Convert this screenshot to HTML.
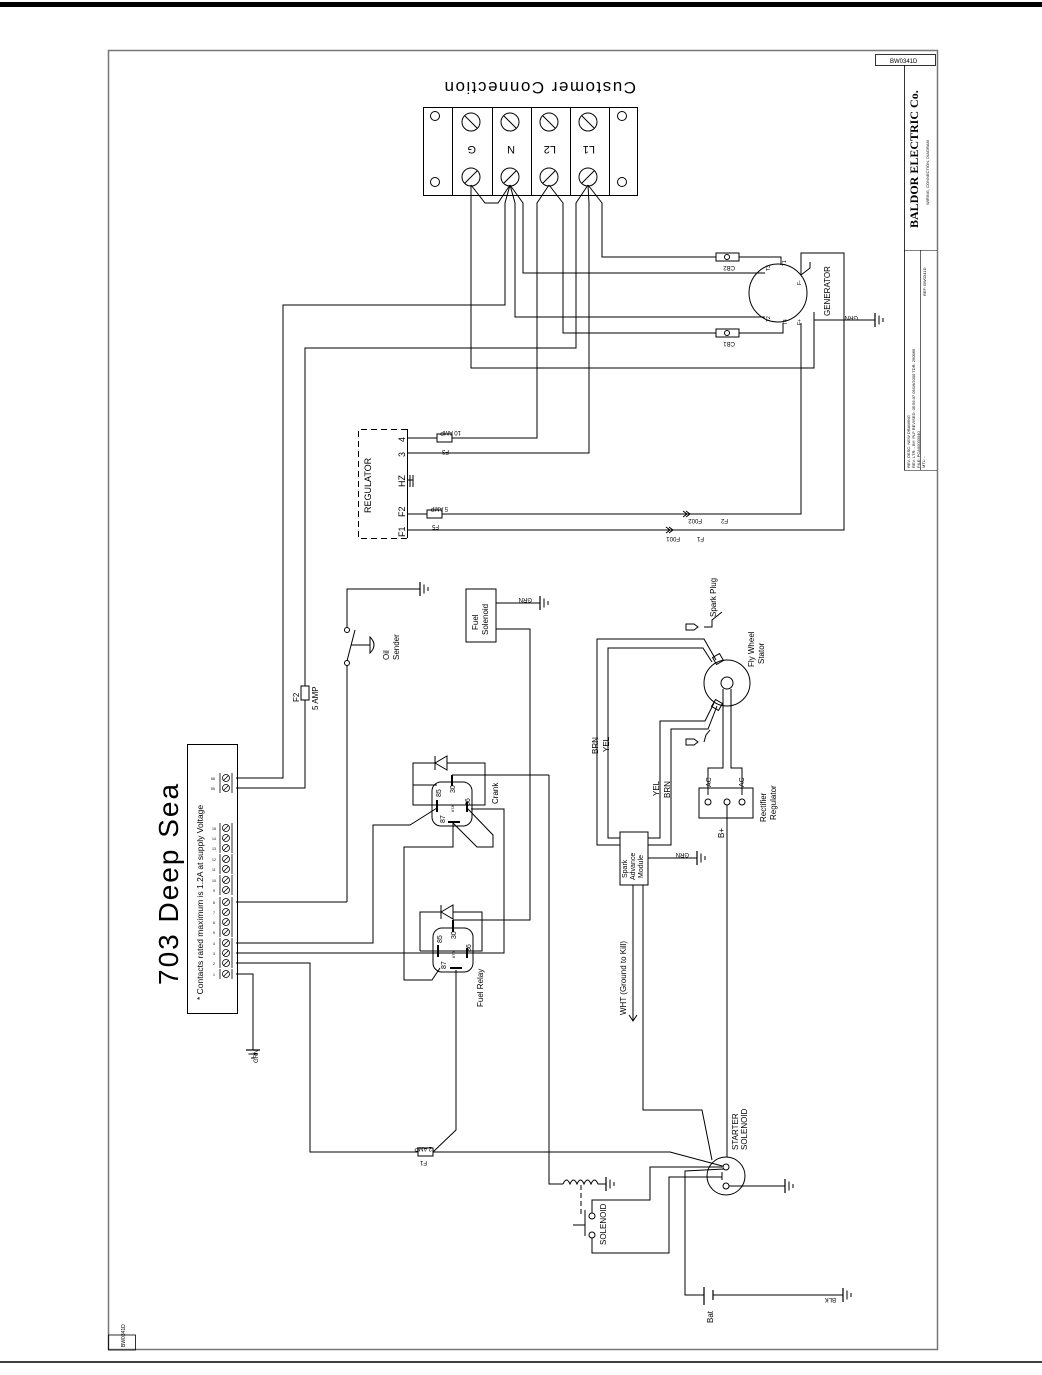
<!DOCTYPE html>
<html><head><meta charset="utf-8"><style>
html,body{margin:0;padding:0;background:#fff;}
svg{display:block;}
text{font-family:"Liberation Sans",sans-serif;fill:#000;}
</style></head><body>
<svg width="1042" height="1375" viewBox="0 0 1042 1375" xmlns="http://www.w3.org/2000/svg">
<defs>
<g id="gnd"><line x1="0" y1="-7" x2="0" y2="7" stroke="#000" stroke-width="1.2"/><line x1="4" y1="-4.5" x2="4" y2="4.5" stroke="#000"/><line x1="8" y1="-2" x2="8" y2="2" stroke="#000"/></g>
<g id="t" stroke="#000" fill="none" stroke-width="0.8">
<circle cx="226" cy="0" r="3.5"/><line x1="223.5" y1="2.5" x2="228.5" y2="-2.5"/><line x1="220" y1="-5" x2="220" y2="5"/><line x1="232" y1="-5" x2="232" y2="5"/>
</g>
</defs>
<rect x="0" y="2" width="1042" height="5" fill="#000"/>
<line x1="0" y1="1362" x2="1042" y2="1362" stroke="#000" stroke-width="1.5"/>
<!-- frame -->
<rect x="108.5" y="50.5" width="829" height="1299" fill="none" stroke="#777" stroke-width="1.5"/>
<rect x="108.5" y="1335" width="27" height="15" fill="none" stroke="#000" stroke-width="0.8"/>
<text transform="translate(125,1347) rotate(-90)" font-size="5">BW0341D</text>
<!-- title block -->
<rect x="875.5" y="54.5" width="60" height="11" fill="none" stroke="#000" stroke-width="0.8"/>
<text x="890" y="63" font-size="6">BW0341D</text>
<line x1="904.5" y1="65" x2="904.5" y2="470" stroke="#000" stroke-width="0.8"/>
<line x1="920.5" y1="250" x2="920.5" y2="470" stroke="#000" stroke-width="0.6"/>
<line x1="904" y1="250.5" x2="937" y2="250.5" stroke="#000" stroke-width="0.6"/>
<line x1="904" y1="470.5" x2="937" y2="470.5" stroke="#000" stroke-width="0.6"/>
<text transform="translate(918,228) rotate(-90)" font-size="12" font-weight="bold" style="font-family:'Liberation Serif',serif">BALDOR  ELECTRIC  Co.</text>
<text transform="translate(929,205) rotate(-90)" font-size="4">WIRING, CONNECTION, DIAGRAM</text>
<text transform="translate(910,468) rotate(-90)" font-size="4">REV. DESC: NEW DRAWING</text>
<text transform="translate(915,468) rotate(-90)" font-size="4">REV. LTR: -  BY: PLF  REVISED: 05:56:37 05/19/2000  TDR: 290989</text>
<text transform="translate(920,468) rotate(-90)" font-size="4">FILE: PCA00003040</text>
<text transform="translate(925,468) rotate(-90)" font-size="4">MTL: -</text>
<text transform="translate(926,296) rotate(-90)" font-size="4">REF: BW0341D</text>

<!-- Customer connection -->
<text transform="translate(636,82) rotate(180)" font-size="17" letter-spacing="1.5">Customer Connection</text>
<rect x="423.5" y="107.5" width="214" height="88" fill="none" stroke="#000"/>
<g stroke="#000" fill="none">
<line x1="452.5" y1="107" x2="452.5" y2="196"/><line x1="492.5" y1="107" x2="492.5" y2="196"/>
<line x1="531.5" y1="107" x2="531.5" y2="196"/><line x1="570.5" y1="107" x2="570.5" y2="196"/>
<line x1="609.5" y1="107" x2="609.5" y2="196"/>
<circle cx="435" cy="116" r="4.5"/><circle cx="435" cy="182" r="4.5"/>
<circle cx="622" cy="116" r="4.5"/><circle cx="622" cy="182" r="4.5"/>
<circle cx="471" cy="122" r="9"/><circle cx="510" cy="122" r="9"/><circle cx="549" cy="122" r="9"/><circle cx="588" cy="122" r="9"/>
<circle cx="471" cy="177" r="9"/><circle cx="510" cy="177" r="9"/><circle cx="549" cy="177" r="9"/><circle cx="588" cy="177" r="9"/>
<line x1="465" y1="116" x2="477" y2="128"/><line x1="504" y1="116" x2="516" y2="128"/><line x1="543" y1="116" x2="555" y2="128"/><line x1="582" y1="116" x2="594" y2="128"/>
<line x1="465" y1="183" x2="477" y2="171"/><line x1="504" y1="183" x2="516" y2="171"/><line x1="543" y1="183" x2="555" y2="171"/><line x1="582" y1="183" x2="594" y2="171"/>
</g>
<g font-size="11">
<text transform="translate(476,146) rotate(180)">G</text><text transform="translate(515,146) rotate(180)">N</text>
<text transform="translate(556,146) rotate(180)">L2</text><text transform="translate(595,146) rotate(180)">L1</text>
</g>

<!-- wires top -->
<g stroke="#000" fill="none" stroke-width="1">
<polyline points="471,185 485,203 498,203 510,185"/>
<polyline points="471,185 471,368 814,368 814,312"/>
<polyline points="510,185 505,203 505,305 283,305 283,778 236,778"/>
<polyline points="510,185 515,203 515,317 765,317"/>
<polyline points="510,185 523,203 523,273 765,273"/>
<polyline points="549,185 537,203 537,438 452,438"/>
<polyline points="549,185 563,203 563,333 716,333"/>
<polyline points="739,333 783,333 783,323"/>
<polyline points="588,185 576,203 576,348 305,348 305,686"/>
<polyline points="305,700 305,788 236,788"/>
<polyline points="588,185 602,203 602,257 716,257"/>
<polyline points="739,257 781,257 781,265"/>
<polyline points="588,185 589,203 589,453 407,453"/>
<polyline points="442,514 801,514 801,323"/>
<polyline points="407,530 844,530 844,253 801,253 801,275"/>
<line x1="814" y1="320" x2="875" y2="320"/>
<line x1="407" y1="438" x2="437" y2="438"/>
<line x1="407" y1="514" x2="427" y2="514"/>
</g>
<use href="#gnd" x="875" y="320"/>
<text transform="translate(858,316) rotate(180)" font-size="6">GRN</text>
<!-- generator -->
<circle cx="778" cy="293" r="29" fill="none" stroke="#000"/>
<text transform="translate(830,316) rotate(-90)" font-size="8">GENERATOR</text>
<g font-size="5"><text transform="translate(770,271) rotate(-90)">T3</text><text transform="translate(786,266) rotate(-90)">T1</text><text transform="translate(770,322) rotate(-90)">T2</text><text transform="translate(787,325) rotate(-90)">T4</text><text transform="translate(801,285) rotate(-90)">F-</text><text transform="translate(801,325) rotate(-90)">F+</text></g>
<polyline points="801,275 810,268 810,262" fill="none" stroke="#000"/>
<!-- CB fuses -->
<g stroke="#000" fill="#fff"><rect x="716" y="253" width="23" height="8"/><rect x="716" y="329" width="23" height="8"/></g>
<g stroke="#000"><circle cx="727" cy="257" r="2.5" fill="none"/><circle cx="727" cy="333" r="2.5" fill="none"/></g>
<text transform="translate(735,266) rotate(180)" font-size="6">CB2</text>
<text transform="translate(735,342) rotate(180)" font-size="6">CB1</text>

<!-- Regulator -->
<path d="M407.5 429 V538.5 H358.5 V429.5 H407" fill="none" stroke="#000" stroke-dasharray="6,4"/>
<line x1="407.5" y1="429" x2="407.5" y2="538" stroke="#000"/>
<text transform="translate(371,513) rotate(-90)" font-size="9">REGULATOR</text>
<g font-size="9"><text transform="translate(405,442) rotate(-90)">4</text><text transform="translate(405,457) rotate(-90)">3</text><text transform="translate(405,487) rotate(-90)">HZ</text><text transform="translate(405,517) rotate(-90)">F2</text><text transform="translate(405,537) rotate(-90)">F1</text></g>
<g stroke="#000"><line x1="410" y1="475" x2="410" y2="487"/><line x1="413" y1="475" x2="413" y2="487"/><line x1="407" y1="480" x2="413" y2="480"/></g>
<rect x="437" y="434" width="15" height="8" fill="#fff" stroke="#000"/>
<rect x="427" y="510" width="15" height="8" fill="#fff" stroke="#000"/>
<g font-size="6"><text transform="translate(461,431) rotate(180)">10 AMP</text><text transform="translate(449,450) rotate(180)">F3</text><text transform="translate(448,507) rotate(180)">5 AMP</text><text transform="translate(439,525) rotate(180)">F5</text>
<text transform="translate(702,519) rotate(180)">F002</text><text transform="translate(728,519) rotate(180)">F2</text>
<text transform="translate(680,537) rotate(180)">F001</text><text transform="translate(704,537) rotate(180)">F1</text></g>
<g stroke="#000" fill="none"><polyline points="683,511 687,514 683,517"/><polyline points="686,511 690,514 686,517"/><polyline points="666,527 670,530 666,533"/><polyline points="669,527 673,530 669,533"/></g>

<!-- F2 5 AMP fuse on 305 line -->
<rect x="301" y="686" width="8" height="14" fill="#fff" stroke="#000"/>
<text transform="translate(299,702) rotate(-90)" font-size="8">F2</text>
<text transform="translate(318,710) rotate(-90)" font-size="8">5 AMP</text>

<!-- oil sender -->
<g stroke="#000" fill="none">
<polyline points="347,902 347,664"/>
<circle cx="347" cy="663" r="2.5" fill="#fff"/><circle cx="347" cy="630" r="2.5" fill="#fff"/>
<line x1="347" y1="661" x2="355" y2="630"/>
<line x1="351" y1="645" x2="370" y2="645"/>
<path d="M370 637 Q378 645 370 653 Z"/>
<polyline points="347,627 347,589 420,589"/>
</g>
<use href="#gnd" x="420" y="589"/>
<text transform="translate(389,660) rotate(-90)" font-size="8">Oil</text>
<text transform="translate(399,660) rotate(-90)" font-size="8">Sender</text>

<!-- Fuel solenoid -->
<rect x="466" y="589" width="30" height="53" fill="none" stroke="#000"/>
<text transform="translate(478,630) rotate(-90)" font-size="8">Fuel</text>
<text transform="translate(488,635) rotate(-90)" font-size="8">Solenoid</text>
<line x1="496" y1="603" x2="540" y2="603" stroke="#000"/>
<use href="#gnd" x="540" y="603"/>
<text transform="translate(532,598) rotate(180)" font-size="6">GRN</text>
<polyline points="496,629 530,629 530,920 453,920" fill="none" stroke="#000"/>

<!-- Deep Sea -->
<rect x="187.5" y="744.5" width="50" height="269" fill="none" stroke="#000"/>
<text transform="translate(178,985) rotate(-90)" font-size="28" font-weight="200" letter-spacing="2">703 Deep Sea</text>
<text transform="translate(203,1000) rotate(-90)" font-size="8.5">* Contacts rated maximum is 1.2A at supply Voltage</text>
<g>
<use href="#t" y="778"/><use href="#t" y="788"/>
<use href="#t" y="828"/><use href="#t" y="838"/><use href="#t" y="848"/><use href="#t" y="859"/><use href="#t" y="869"/><use href="#t" y="880"/><use href="#t" y="890"/><use href="#t" y="902"/><use href="#t" y="912"/><use href="#t" y="922"/><use href="#t" y="932"/><use href="#t" y="943"/><use href="#t" y="953"/><use href="#t" y="963"/><use href="#t" y="974"/>
</g>
<g font-size="3.5"><text x="211" y="780">56</text><text x="211" y="790">55</text><text x="212" y="830">15</text><text x="212" y="840">14</text><text x="212" y="850">13</text><text x="212" y="861">12</text><text x="212" y="871">11</text><text x="212" y="882">10</text><text x="213" y="892">9</text><text x="213" y="904">8</text><text x="213" y="914">7</text><text x="213" y="924">6</text><text x="213" y="934">5</text><text x="213" y="945">4</text><text x="213" y="955">3</text><text x="213" y="965">2</text><text x="213" y="976">1</text></g>

<!-- Deep sea wires -->
<g stroke="#000" fill="none">
<polyline points="236,902 347,902"/>
<polyline points="236,943 373,943 373,825 410,825 437,808"/>
<polyline points="236,953 504,953 504,809 471,809"/>
<polyline points="236,963 310,963 310,1152 418,1152"/>
<polyline points="433,1152 670,1152 726,1167"/>
<polyline points="236,974 253,974 253,1050"/>
<polyline points="433,1152 456,1130 456,970"/>
</g>
<use href="#gnd" x="253" y="1050" transform="rotate(90 253 1050)"/>
<text transform="translate(258,1063) rotate(-90)" font-size="6">GRN</text>
<rect x="418" y="1148" width="15" height="8" fill="#fff" stroke="#000"/>
<text transform="translate(432,1147) rotate(180)" font-size="6">2 AMP</text>
<text transform="translate(427,1161) rotate(180)" font-size="6">F1</text>

<!-- Crank relay -->
<g stroke="#000" fill="none">
<rect x="432" y="782" width="40" height="44" rx="9"/>
<polyline points="437,785 413,785 413,805 485,805 485,763 413,763 413,785"/>
<polyline points="435,763 447,756 447,770 435,763" fill="#fff"/>
<line x1="435" y1="756" x2="435" y2="770"/>
<line x1="437" y1="800" x2="437" y2="812" stroke-width="2"/>
<line x1="452" y1="775" x2="452" y2="786" stroke-width="2"/>
<line x1="467" y1="802" x2="467" y2="812" stroke-width="2"/>
<line x1="448" y1="822" x2="460" y2="822" stroke-width="2"/>
<line x1="452" y1="775" x2="549" y2="775"/>
<polyline points="549,775 549,1184 563,1184"/>
<polyline points="453,822 453,847 404,847 404,980 432,980 440,968"/>
<polyline points="467,808 493,835 493,847 477,847 453,823"/>
</g>
<g font-size="7"><text transform="translate(441,797) rotate(-90)">85</text><text transform="translate(455,793) rotate(-90)">30</text><text transform="translate(470,806) rotate(-90)">86</text><text transform="translate(445,823) rotate(-90)">87</text><text transform="translate(454,812) rotate(-90)" font-size="4">87A</text></g>
<text transform="translate(498,804) rotate(-90)" font-size="8">Crank</text>

<!-- Fuel relay -->
<g stroke="#000" fill="none">
<rect x="433" y="928" width="40" height="44" rx="9"/>
<polyline points="420,951 482,951 482,912 420,912 420,951"/>
<polyline points="441,912 453,905 453,919 441,912" fill="#fff"/>
<line x1="441" y1="905" x2="441" y2="919"/>
<line x1="438" y1="945" x2="438" y2="957" stroke-width="2"/>
<line x1="453" y1="920" x2="453" y2="932" stroke-width="2"/>
<line x1="467" y1="948" x2="467" y2="958" stroke-width="2"/>
<line x1="450" y1="968" x2="462" y2="968" stroke-width="2"/>
</g>
<g font-size="7"><text transform="translate(442,943) rotate(-90)">85</text><text transform="translate(456,939) rotate(-90)">30</text><text transform="translate(471,952) rotate(-90)">86</text><text transform="translate(446,969) rotate(-90)">87</text><text transform="translate(455,958) rotate(-90)" font-size="4">87A</text></g>
<text transform="translate(483,1007) rotate(-90)" font-size="8">Fuel Relay</text>

<!-- Spark advance / flywheel -->
<rect x="620" y="832" width="28" height="53" fill="none" stroke="#000"/>
<g font-size="7"><text transform="translate(627,878) rotate(-90)">Spark</text><text transform="translate(635,880) rotate(-90)">Advance</text><text transform="translate(643,878) rotate(-90)">Module</text></g>
<g stroke="#000" fill="none">
<polyline points="620,845 597,845 597,639 704,639 716,660"/>
<polyline points="620,838 608,838 608,648 703,648 712,662"/>
<polyline points="648,838 660,838 660,721 705,721 714,703"/>
<polyline points="648,845 671,845 671,729 708,729 717,706"/>
<line x1="648" y1="858" x2="697" y2="858"/>
<polyline points="633,885 633,1020"/>
<polyline points="629,1015 633,1021 637,1015"/>
<polyline points="643,885 643,1110 702,1110 712,1160"/>
<circle cx="727" cy="683" r="23"/>
<circle cx="727" cy="683" r="6"/>
<polyline points="723,689 723,768 708,768 708,795"/>
<polyline points="731,689 731,768 742,768 742,795"/>
<rect x="699" y="788" width="54" height="30"/>
<circle cx="708" cy="802" r="3"/><circle cx="727" cy="802" r="3"/><circle cx="742" cy="802" r="3"/>
<polyline points="727,805 727,1157"/>
<polyline points="704,627 712,627 712,620 722,612"/>
<polyline points="704,742 706,735 710,730"/>
<rect x="714" y="655" width="8" height="8" transform="rotate(-30 718 659)"/>
<rect x="713" y="701" width="8" height="8" transform="rotate(30 717 705)"/>
</g>
<g stroke="#000" fill="#fff"><path d="M686 624 h8 l4 3 l-4 3 h-8 z"/><path d="M686 739 h8 l4 3 l-4 3 h-8 z"/></g>
<use href="#gnd" x="697" y="858"/>
<text transform="translate(689,853) rotate(180)" font-size="6">GRN</text>
<g font-size="8">
<text transform="translate(598,754) rotate(-90)">BRN</text><text transform="translate(609,752) rotate(-90)">YEL</text>
<text transform="translate(659,796) rotate(-90)">YEL</text><text transform="translate(670,798) rotate(-90)">BRN</text>
<text transform="translate(716,617) rotate(-90)">Spark  Plug</text>
<text transform="translate(754,667) rotate(-90)">Fly  Wheel</text><text transform="translate(764,664) rotate(-90)">Stator</text>
<text transform="translate(711,787) rotate(-90)" font-size="7">AC</text><text transform="translate(744,787) rotate(-90)" font-size="7">AC</text>
<text transform="translate(724,838) rotate(-90)">B+</text>
<text transform="translate(766,822) rotate(-90)">Rectifier</text><text transform="translate(776,820) rotate(-90)">Regulator</text>
<text transform="translate(626,1015) rotate(-90)">WHT (Ground to Kill)</text>
</g>

<!-- Starter solenoid -->
<g stroke="#000" fill="none">
<circle cx="726" cy="1176" r="19"/>
<circle cx="726" cy="1167" r="3" fill="#fff"/><circle cx="726" cy="1186" r="3" fill="#fff"/>
<line x1="722" y1="1172" x2="722" y2="1180"/>
<line x1="729" y1="1186" x2="785" y2="1186"/>
<polyline points="722,1167 650,1167 650,1200 592,1200 592,1213"/>
<polyline points="722,1177 669,1177 669,1253 592,1253 592,1238"/>
<polyline points="724,1169 685,1171 685,1295 704,1295"/>
<line x1="704" y1="1287" x2="704" y2="1305" stroke-width="1.2"/>
<line x1="713" y1="1290" x2="713" y2="1300" stroke-width="1.2"/>
<line x1="713" y1="1295" x2="843" y2="1295"/>
<circle cx="592" cy="1216" r="3" fill="#fff"/><circle cx="592" cy="1235" r="3" fill="#fff"/>
<line x1="585" y1="1210" x2="585" y2="1236"/>
<line x1="573" y1="1225" x2="585" y2="1225"/>
<line x1="581" y1="1185" x2="581" y2="1214" stroke-dasharray="5,3"/>
<path d="M563 1184 q3.5 -8 7 0 q3.5 -8 7 0 q3.5 -8 7 0 q3.5 -8 7 0 q3.5 -8 7 0 h8"/>
</g>
<use href="#gnd" x="785" y="1186"/>
<use href="#gnd" x="606" y="1184"/>
<use href="#gnd" x="843" y="1295"/>
<g font-size="8">
<text transform="translate(738,1150) rotate(-90)">STARTER</text><text transform="translate(747,1150) rotate(-90)">SOLENOID</text>
<text transform="translate(606,1245) rotate(-90)">SOLENOID</text>
<text transform="translate(713,1323) rotate(-90)">Bat</text>
</g>
<text transform="translate(836,1298) rotate(180)" font-size="6">BLK</text>
</svg>
</body></html>
